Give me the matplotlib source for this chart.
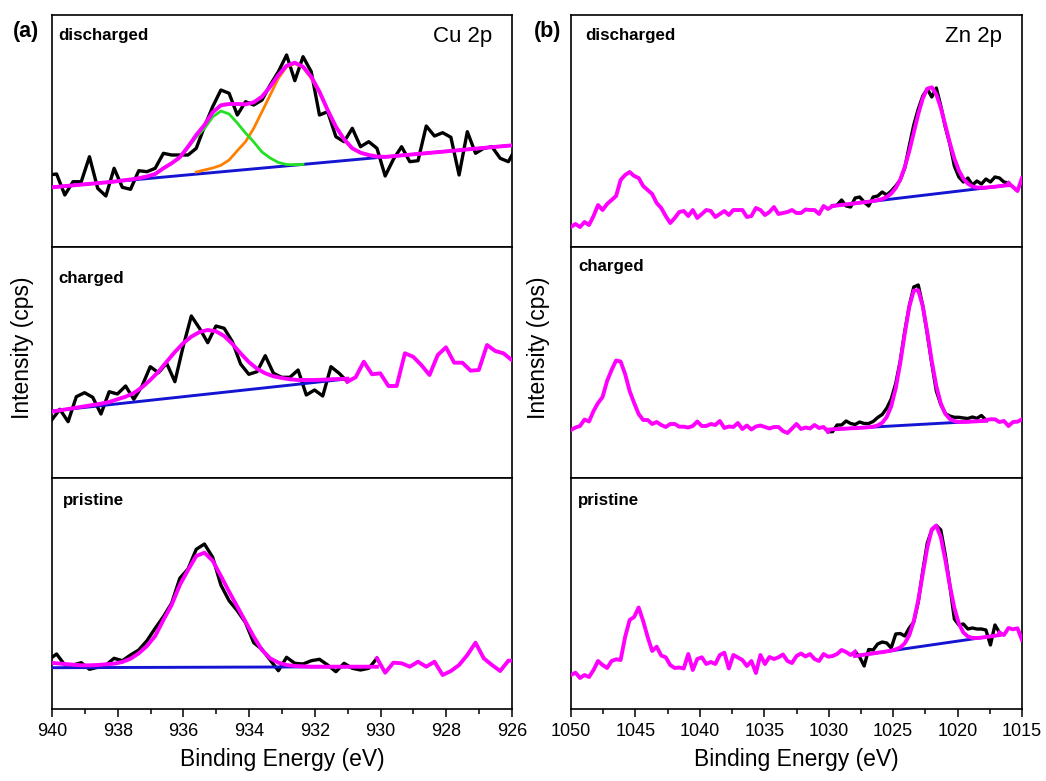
import numpy as np
import matplotlib
matplotlib.use("Agg")
import matplotlib.pyplot as plt
from matplotlib.ticker import MultipleLocator

plt.rcParams['font.family'] = ['Liberation Sans', 'DejaVu Sans']

# ---------------- Cu 2p (intensity in arbitrary units) ----------------
cu_dis_energy = 940.11 - 0.25 * np.arange(58)
cu_dis_raw = [72.0, 73.0, 52.0, 65.3, 65.3, 90.3, 58.7, 51.0, 78.7, 59.7, 57.7, 76.3, 75.3, 78.7,
              93.7, 92.0, 92.0, 92.0, 98.7, 120.3, 140.3, 157.0, 153.7, 132.0, 145.3, 142.0, 147.0,
              162.0, 175.3, 192.0, 166.3, 190.3, 175.3, 132.0, 135.3, 110.3, 105.3, 118.7, 100.3,
              105.3, 98.7, 71.0, 87.7, 100.3, 85.3, 86.3, 121.0, 111.0, 114.3, 109.7, 72.0, 115.3,
              93.7, 98.7, 100.3, 88.7, 85.3, 100.3]
cu_dis_env = [59.4, 60.1, 60.9, 61.6, 62.4, 63.1, 63.9, 64.6, 65.4, 66.5, 67.5, 68.8, 70.5, 73,
              78.7, 83.7, 89.7, 100.3, 112, 122, 134.7, 141.7, 143, 143, 142.7, 144.7, 150.3, 160.3,
              172, 181.3, 184.3, 180.3, 170.3, 155.3, 137, 120.3, 107.7, 98.7, 94.3, 92, 90.5, 90.1,
              90.8, 91.6, 92.3, 93.1, 93.8, 94.6, 95.3, 96.1, 96.8, 97.6, 98.3, 99.1, 99.8, 100.6,
              101.3, 102.1]
cu_dis_orange = [75, 77, 79, 81.7, 87, 96.3, 105.3, 118.7, 135.3, 152, 168.7, 180.3,
                 183.3, 179.7, 168.7, 154.3, 136.3, 120, 107.3, 98.3, 94, 91.7, 90]      # points 18..40
cu_dis_green = [66.5, 67.5, 68.8, 70.5, 73, 78.7, 83.5, 89.6, 99.4, 109.9, 118.6, 130.1, 136,
                133, 124, 114, 105, 95, 89, 84.5, 82.5, 82.3, 82.6]                       # points 9..31
cu_dis_base = ([940.11, 925.86], [59.4, 102.1])

cu_chg_energy = 940.01 - 0.25 * np.arange(57)
cu_chg_raw = [58, 68.7, 56.3, 81.3, 85.3, 80.7, 64, 86.3, 84, 92, 78.7, 92, 111.3, 105.3, 114.7,
              96.3, 131.3, 162, 149.7, 135.3, 152, 149.7, 136.3, 114, 103.7, 106.3, 122.3, 104.7,
              100.7, 100.7, 108, 83, 88, 82, 111.3, 104.7, 96.3, 100.7, 116.3, 103.7, 104.7, 92, 92,
              124.7, 121.3, 113, 103, 123, 130.7, 115.3, 115.3, 107.3, 108, 133, 127, 124.7, 118]
cu_chg_env = [66.3, 67.7, 69, 70.3, 71.7, 73, 74.3, 76, 78.7, 81.3, 85, 90.7, 98, 106.3, 116.3,
              126, 134.7, 141.3, 146, 148, 146.7, 142, 134, 124.7, 116, 109.3, 104.7, 101.7, 100,
              98.7, 98, 98, 98, 98.3, 98.7, 99, 99.3]                                     # points 0..36
cu_chg_base = ([940.01, 931.13], [67, 98.7])

cu_pri_energy = 940.11 - 0.25 * np.arange(58)
cu_pri_raw = [49, 55, 44, 44, 46.3, 39.7, 41.7, 44, 50.7, 48.3, 54, 59, 68.3, 80.7, 92.3, 105.7,
              130.7, 140, 159.7, 165, 151.7, 124, 108.3, 98.3, 86.3, 66.3, 59.7, 49, 38.3, 51.7,
              45.7, 45, 48.3, 49.7, 44, 37.3, 45.7, 40.7, 39, 40.7, 50.7, 36.3, 46.3, 45.7, 42.3,
              47.3, 42.3, 47.3, 34, 38, 44, 54, 66.3, 50.7, 44, 38, 48.3, 48.3]
cu_pri_env = [46.3, 45.7, 45, 44.3, 43.7, 43.7, 44, 44.7, 45.3, 47, 50.3, 55.7, 63, 73, 89, 104,
              124, 139, 153, 156.3, 148.3, 133, 117.3, 102.3, 87.3, 72.3, 59, 50.7, 46.3, 44, 43,
              42.7, 42.3, 42.3, 42.3, 42.3, 42.3, 42.3, 42.3, 42.3, 42.3]                  # points 0..40
cu_pri_base = ([940.0, 930.12], [41.3, 42.3])

# ---------------- Zn 2p ----------------
zn_energy = 1050 - 0.35 * np.arange(101)
zn_dis_raw = [20, 23, 20, 25, 22, 31, 42, 37, 43, 47, 51, 67, 72, 75, 71, 69, 61, 57, 53, 44,
              39, 31, 24, 29, 35, 36, 31, 37, 29, 33, 37, 36, 30, 33, 36, 32, 37, 37, 37, 30,
              31, 39, 37, 32, 35, 40, 33, 34, 35, 37, 34, 34, 37.5, 37, 37, 33, 41, 38, 41, 42,
              47, 41, 40, 49, 50, 45, 41, 50, 51, 55, 52, 56, 61, 67, 79, 101, 122, 138, 151, 158,
              150, 159, 141, 120, 103, 81, 70, 65, 69, 62, 66, 63, 68, 65, 70, 69, 65, 64, 60, 56, 69]
zn_dis_env = [41.0, 41.5, 42.1, 42.6, 43.1, 43.7, 44.2, 44.8, 45.3, 46.0, 46.9, 48.0, 50.0, 53.4,
              58.9, 67.4, 79.8, 95.8, 114.4, 133.0, 148.7, 158.3, 159.7, 152.7, 139.1, 121.8, 104.0,
              88.5, 76.5, 68.3, 63.3, 60.6, 59.5, 59.3, 59.4, 59.9, 60.3, 60.9, 61.4, 61.9]  # points 58..97
zn_dis_fit = (58, 97)
zn_dis_base = ([1029.67, 1015.93], [41, 62])

zn_chg_raw = [48, 50.5, 52, 58.5, 56.5, 67, 75, 81, 97, 108, 117.5, 116.5, 104, 87, 75, 64, 58, 58,
              54, 56, 53, 51, 54, 54, 51.3, 51.3, 50.5, 52, 56.5, 52, 52, 54, 53, 57, 50, 51.5, 51,
              55, 49, 52.5, 48.5, 51.5, 52.5, 51, 49.5, 51, 51, 47, 45, 49.5, 54, 49, 50.5, 49.5,
              53, 50, 51, 46.3, 46.3, 53, 53, 57, 54.5, 53.5, 56, 54.5, 54.5, 56.5, 60.5, 63.5,
              69.7, 79, 94.5, 117, 146.5, 172, 191, 193, 172, 144, 114.5, 87, 73.5, 64.5, 62, 60.7,
              60.7, 60, 59.5, 61, 59.7, 62.5, 58, 58.7, 58.7, 56, 57, 52, 56, 56.3, 58.7]
zn_chg_env = [48.4, 48.7, 48.9, 49.2, 49.4, 49.7, 49.9, 50.2, 50.4, 50.8, 51.3, 52.6, 55.2, 60.9,
              71.7, 89.7, 114.8, 144.3, 171.1, 187.4, 187.7, 171.9, 145.6, 116.6, 92.0, 74.5, 64.2,
              59.0, 56.9, 56.1, 56.1, 56.2, 56.5, 56.7, 57.0, 57.2]                           # points 57..92
zn_chg_fit = (57, 92)
zn_chg_base = ([1029.67, 1017.74], [48.7, 57.3])

zn_pri_raw = [34, 36.3, 31, 34, 32, 39, 48, 44, 41, 48, 49.7, 49, 72, 89, 92, 101.5, 88, 72, 58,
              62.3, 53.5, 51.7, 44, 41, 41.5, 40.5, 55, 39, 50, 51.7, 45, 47, 45, 54, 56.3, 40.5,
              54, 51.5, 49, 43, 48, 36, 54, 45, 52, 50, 51.7, 54.5, 48, 46, 53, 55.5, 52.5, 55, 50,
              48, 55, 52.3, 53, 55, 59, 57, 54, 57.3, 52, 43, 59.5, 59, 65, 67, 66, 61, 75, 75.5,
              73, 81, 87, 107, 138, 166, 179, 183.5, 179, 154, 123.5, 90, 84, 85, 80, 81, 80, 80,
              79, 64, 84, 76.5, 74, 81, 79.7, 80.7, 69]
zn_pri_env = [53.0, 53.7, 54.3, 55.0, 55.6, 56.3, 56.9, 57.6, 58.4, 59.6, 61.5, 65.7, 73.7, 87.7,
              108.9, 135.2, 161.4, 179.6, 183.5, 171.7, 149.2, 123.3, 101.0, 85.4, 76.5, 72.5,
              71.1, 71.0, 71.4, 72.0, 72.6, 73.3, 73.9]                                     # points 63..95
zn_pri_fit = (63, 95)
zn_pri_base = ([1027.96, 1016.71], [53, 74])

# colours
RAW = 'black'
FIT = '#FF00FF'
BASE = '#1414D2'
ORANGE = '#FF8000'
GREEN = '#22E022'

# ---------------- layout (pixel based) ----------------
W, H = 1046, 781
fig = plt.figure(figsize=(W / 100, H / 100), dpi=100)

rows = [(15, 247), (247, 478), (478, 709)]
cols = [(52, 512), (571, 1022)]


def make_ax(col, row):
    x0, x1 = cols[col]
    y0, y1 = rows[row]
    ax = fig.add_axes([x0 / W, 1 - y1 / H, (x1 - x0) / W, (y1 - y0) / H])
    ax.set_ylim(0, y1 - y0)
    ax.set_yticks([])
    for s in ax.spines.values():
        s.set_linewidth(1.2)
    return ax


axes = [[make_ax(c, r) for r in range(3)] for c in range(2)]

lw_raw, lw_fit, lw_base, lw_comp = 2.4, 2.8, 2.1, 2.0

# ---- Cu discharged ----
ax = axes[0][0]
ax.plot(cu_dis_energy, cu_dis_raw, color=RAW, lw=lw_raw, zorder=2)
ax.plot(*cu_dis_base, color=BASE, lw=lw_base, zorder=3)
ax.plot(cu_dis_energy[18:41], cu_dis_orange, color=ORANGE, lw=lw_comp, zorder=4)
ax.plot(cu_dis_energy[9:32], cu_dis_green, color=GREEN, lw=lw_comp, zorder=4)
ax.plot(cu_dis_energy, cu_dis_env, color=FIT, lw=lw_fit, zorder=5)

# ---- Cu charged ----
ax = axes[0][1]
ax.plot(cu_chg_energy[:37], cu_chg_raw[:37], color=RAW, lw=lw_raw, zorder=2)
ax.plot(cu_chg_energy[36:], cu_chg_raw[36:], color=FIT, lw=lw_fit, zorder=5)
ax.plot(*cu_chg_base, color=BASE, lw=lw_base, zorder=3)
ax.plot(cu_chg_energy[:37], cu_chg_env, color=FIT, lw=lw_fit, zorder=5)

# ---- Cu pristine ----
ax = axes[0][2]
ax.plot(cu_pri_energy[:41], cu_pri_raw[:41], color=RAW, lw=lw_raw, zorder=2)
ax.plot(cu_pri_energy[40:], cu_pri_raw[40:], color=FIT, lw=lw_fit, zorder=5)
ax.plot(*cu_pri_base, color=BASE, lw=lw_base, zorder=3)
ax.plot(cu_pri_energy[:41], cu_pri_env, color=FIT, lw=lw_fit, zorder=5)

# ---- Zn panels ----
zn_sets = [(zn_dis_raw, zn_dis_env, zn_dis_fit, zn_dis_base),
           (zn_chg_raw, zn_chg_env, zn_chg_fit, zn_chg_base),
           (zn_pri_raw, zn_pri_env, zn_pri_fit, zn_pri_base)]
for r, (raw, env, (a, b), base) in enumerate(zn_sets):
    ax = axes[1][r]
    raw = np.asarray(raw)
    ax.plot(zn_energy[:a + 1], raw[:a + 1], color=FIT, lw=lw_fit, zorder=5)
    ax.plot(zn_energy[b:], raw[b:], color=FIT, lw=lw_fit, zorder=5)
    ax.plot(zn_energy[a:b + 1], raw[a:b + 1], color=RAW, lw=lw_raw, zorder=2)
    ax.plot(*base, color=BASE, lw=lw_base, zorder=3)
    ax.plot(zn_energy[a:b + 1], env, color=FIT, lw=lw_fit, zorder=5)

# ---- axes limits and ticks ----
for r in range(3):
    axes[0][r].set_xlim(940, 926)
    axes[1][r].set_xlim(1050, 1015)
    axes[0][r].xaxis.set_major_locator(MultipleLocator(2))
    axes[0][r].xaxis.set_minor_locator(MultipleLocator(1))
    axes[1][r].xaxis.set_major_locator(MultipleLocator(5))
    axes[1][r].xaxis.set_minor_locator(MultipleLocator(2.5))
    for c in range(2):
        ax = axes[c][r]
        if r < 2:
            ax.tick_params(axis='x', which='both', bottom=False, labelbottom=False)
        else:
            ax.tick_params(axis='x', which='major', direction='out', length=6, width=1.1,
                           labelsize=13, pad=4)
            ax.tick_params(axis='x', which='minor', direction='out', length=3.5, width=1.1)
            ax.set_xlabel('Binding Energy (eV)', fontsize=16.5, labelpad=6)

# ---- panel texts ----
labels = ['discharged', 'charged', 'pristine']
cu_pos = [(0.013, 0.892), (0.013, 0.843), (0.024, 0.883)]
zn_pos = [(0.031, 0.892), (0.0155, 0.897), (0.0155, 0.883)]
for r in range(3):
    axes[0][r].text(*cu_pos[r], labels[r], transform=axes[0][r].transAxes, fontsize=12.2,
                    fontweight='bold', va='baseline', ha='left')
    axes[1][r].text(*zn_pos[r], labels[r], transform=axes[1][r].transAxes, fontsize=12.2,
                    fontweight='bold', va='baseline', ha='left')

axes[0][0].text(0.957, 0.884, 'Cu 2p', transform=axes[0][0].transAxes, fontsize=16,
                va='baseline', ha='right')
axes[1][0].text(0.956, 0.884, 'Zn 2p', transform=axes[1][0].transAxes, fontsize=16,
                va='baseline', ha='right')

fig.text(26 / W, 1 - 31 / H, '(a)', fontsize=15.5, fontweight='bold', ha='center', va='center')
fig.text(548 / W, 1 - 31 / H, '(b)', fontsize=15.5, fontweight='bold', ha='center', va='center')

fig.text(23 / W, 1 - 348 / H, 'Intensity (cps)', fontsize=16.5, rotation=90,
         ha='center', va='center')
fig.text(538 / W, 1 - 348 / H, 'Intensity (cps)', fontsize=16.5, rotation=90,
         ha='center', va='center')

fig.savefig('out.png', dpi=100)
